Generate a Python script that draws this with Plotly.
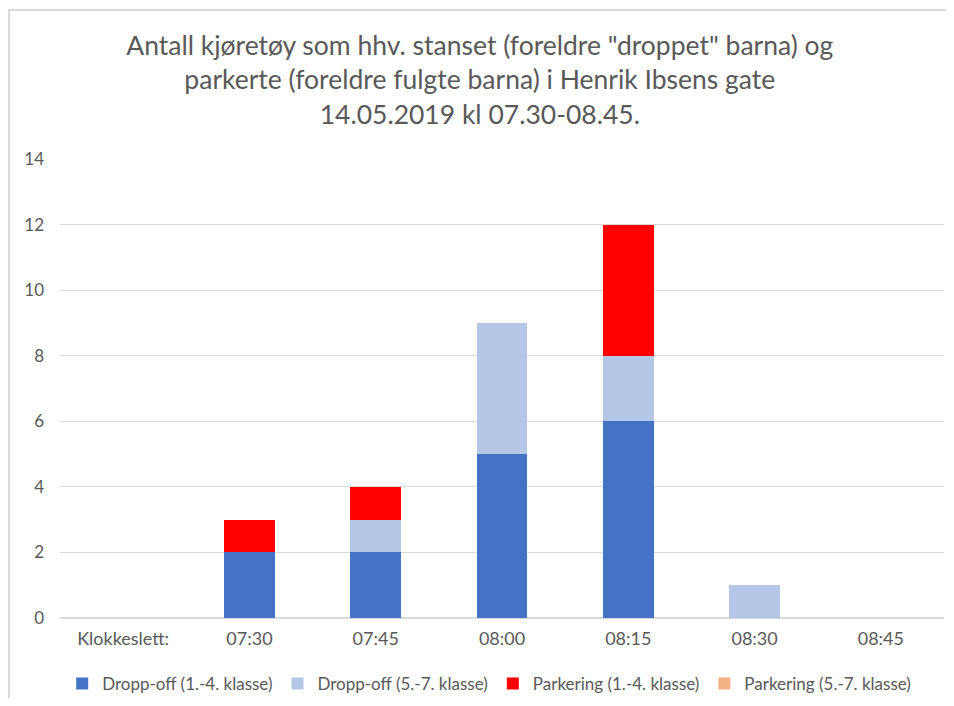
import plotly.graph_objects as go

categories = ["Klokkeslett:", "07:30", "07:45", "08:00", "08:15", "08:30", "08:45"]
dropp_1_4 = [0, 2, 2, 5, 6, 0, 0]
dropp_5_7 = [0, 0, 1, 4, 2, 1, 0]
park_1_4 = [0, 1, 1, 0, 4, 0, 0]
park_5_7 = [0, 0, 0, 0, 0, 0, 0]

series = [
    ("Dropp-off (1.-4. klasse)", dropp_1_4, "#4472C4"),
    ("Dropp-off (5.-7. klasse)", dropp_5_7, "#B4C7E7"),
    ("Parkering (1.-4. klasse)", park_1_4, "#FF0000"),
    ("Parkering (5.-7. klasse)", park_5_7, "#F4B183"),
]

font = "Lato, Open Sans, sans-serif"
grey = "#595959"

fig = go.Figure()
for name, vals, col in series:
    fig.add_trace(go.Bar(x=categories, y=vals, name=name,
                         marker=dict(color=col, line=dict(width=0))))

# page body adds ~8px margin, so figure is sized to fit the window
fig.update_layout(
    barmode="stack",
    bargap=0.6,
    width=938, height=690,
    margin=dict(l=52, r=2, t=151, b=80, autoexpand=False),
    paper_bgcolor="white", plot_bgcolor="white",
    font=dict(family=font, color=grey, size=17),
    title=dict(
        text="Antall kjøretøy som hhv. stanset (foreldre \"droppet\" barna) og<br>"
             "parkerte (foreldre fulgte barna) i Henrik Ibsens gate<br>"
             "14.05.2019 kl 07.30-08.45.",
        xref="container", yref="container",
        x=0.503, xanchor="center", y=0.932, yanchor="top",
        font=dict(size=26.5, color=grey, family=font),
    ),
    legend=dict(orientation="h", xref="container", yref="container",
                x=0.513, xanchor="center", y=0.0203, yanchor="middle",
                font=dict(size=17, color=grey), traceorder="normal",
                itemwidth=30),
    showlegend=True,
)
fig.update_xaxes(showgrid=False, showline=False, ticks="", automargin=False,
                 ticklabelstandoff=8, tickfont=dict(size=18, color=grey))
fig.update_yaxes(range=[0, 14], dtick=2, showgrid=True, gridcolor="#D9D9D9",
                 gridwidth=1, zeroline=True, zerolinecolor="#D9D9D9",
                 showline=False, ticks="", ticklabelstandoff=15, automargin=False,
                 tickfont=dict(size=17, color=grey))

fig.add_shape(type="rect", xref="paper", yref="paper",
              x0=-51 / 884, x1=1.02, y0=-0.2, y1=608 / 459,
              line=dict(color="#D9D9D9", width=2), fillcolor="rgba(0,0,0,0)",
              layer="below")

fig.write_html("out.html")
